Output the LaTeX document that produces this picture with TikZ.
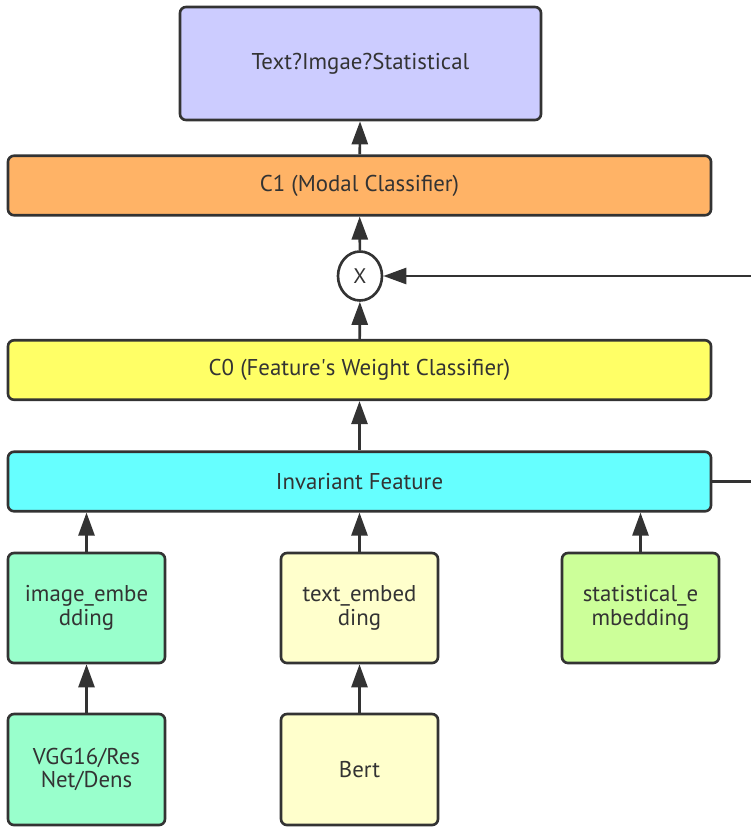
\documentclass[tikz,border=0pt]{standalone}
\usepackage{fontspec}
\setmainfont{PT Sans}
\usetikzlibrary{arrows.meta,shapes.geometric}
\definecolor{linegray}{RGB}{51,51,51}
\definecolor{outblue}{RGB}{204,204,255}
\definecolor{clforange}{RGB}{255,179,102}
\definecolor{wyellow}{RGB}{255,255,102}
\definecolor{invcyan}{RGB}{102,255,255}
\definecolor{imgmint}{RGB}{153,255,204}
\definecolor{txtcream}{RGB}{255,255,204}
\definecolor{statlime}{RGB}{204,255,153}

\begin{document}
\begin{tikzpicture}[
	  box/.style={draw=linegray,line width=1.5pt,rounded corners=0.12cm,text=linegray,
	    font=\fontsize{13}{13.5}\selectfont,align=center,inner sep=0pt},
	  wide/.style={box,minimum width=14.06cm,minimum height=1.19cm},
	  small/.style={box,minimum width=3.14cm,minimum height=2.2cm,text width=2.9cm},
	  arr/.style={draw=linegray,line width=1.5pt,-{Triangle[length=0.46cm,width=0.32cm]}},
	  ]
	  \useasboundingbox (0,0) rectangle (15.02,-16.54);
	  \clip (0,0) rectangle (15.02,-16.54);
	  % top part
	  \node[box,fill=outblue,minimum width=7.22cm,minimum height=2.26cm] (out) at (7.21,-1.27) {Text?Imgae?Statistical};
	  \node[wide,fill=clforange] (c1) at (7.19,-3.71) {C1 (Modal Classifier)};
	  \node[draw=linegray,line width=1.5pt,fill=white,ellipse,minimum width=0.88cm,minimum height=0.98cm,
	    inner sep=0pt,text=linegray,font=\fontsize{12}{12}\selectfont] (mul) at (7.2,-5.52) {X};
	  \node[wide,fill=wyellow] (c0) at (7.19,-7.40) {C0 (Feature\textquotesingle s Weight Classifier)};
	  \node[wide,fill=invcyan] (inv) at (7.19,-9.63) {Invariant Feature};
	  % embeddings
	  \node[small,fill=imgmint] (imgemb) at (1.73,-12.16) {image\_embe\\dding};
	  \node[small,fill=txtcream] (txtemb) at (7.19,-12.16) {text\_embed\\ding};
	  \node[small,fill=statlime] (statemb) at (12.81,-12.16) {statistical\_e\\mbedding};
	  % backbones
	  \node[small,fill=imgmint,minimum height=2.22cm] (vgg) at (1.73,-15.39) {VGG16/Res\\Net/Dens};
	  \node[small,fill=txtcream,minimum height=2.22cm] (bert) at (7.19,-15.39) {Bert};
	  \coordinate (turn) at (15.5,-9.63);

	  \path[arr] (vgg) -- (imgemb);
	  \path[arr] (bert) -- (txtemb);
	  \path[arr] (imgemb) -- (imgemb |- inv.south);
	  \path[arr] (txtemb) -- (txtemb |- inv.south);
	  \path[arr] (statemb) -- (statemb |- inv.south);
	  \path[arr] (inv) -- (c0);
	  \path[arr] (c0) -- (mul);
	  \path[arr] (mul) -- (c1);
	  \path[arr] (c1) -- (out);
	  \path[arr] (inv.east) -- (turn) |- (mul.east);
	\end{tikzpicture}
\end{document}
